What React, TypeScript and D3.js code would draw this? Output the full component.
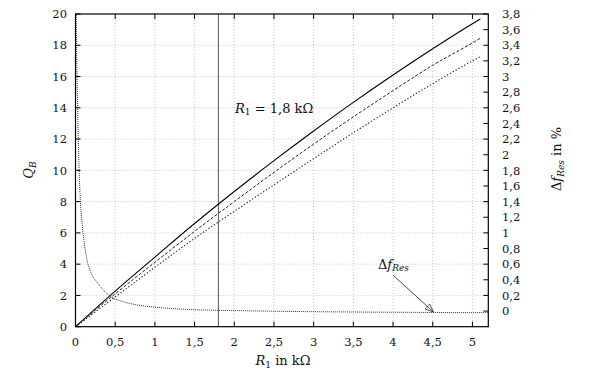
import React from "react";
import * as d3 from "d3";

const xTicks = [0, 0.5, 1, 1.5, 2, 2.5, 3, 3.5, 4, 4.5, 5];
const xTickLabels = ["0", "0,5", "1", "1,5", "2", "2,5", "3", "3,5", "4", "4,5", "5"];
const yLeftTicks = [0, 2, 4, 6, 8, 10, 12, 14, 16, 18, 20];
const yRightTicks = [0, 0.2, 0.4, 0.6, 0.8, 1, 1.2, 1.4, 1.6, 1.8, 2, 2.2, 2.4, 2.6, 2.8, 3, 3.2, 3.4, 3.6, 3.8];
const yRightTickLabels = ["0", "0,2", "0,4", "0,6", "0,8", "1", "1,2", "1,4", "1,6", "1,8", "2", "2,2", "2,4", "2,6", "2,8", "3", "3,2", "3,4", "3,6", "3,8"];

const r1 = [0, 0.5, 1, 1.5, 2, 2.5, 3, 3.5, 4, 4.5, 5, 5.1];
const qSolid = [0, 2.28, 4.45, 6.6, 8.65, 10.62, 12.52, 14.35, 16.1, 17.78, 19.38, 19.68];
const qDashed = [0, 2.1, 4.12, 6.1, 8.0, 9.87, 11.68, 13.42, 15.1, 16.72, 18.15, 18.45];
const qDotted = [0, 1.9, 3.8, 5.65, 7.38, 9.07, 10.75, 12.4, 14.0, 15.55, 17.0, 17.28];

const dfR1 = [0.003, 0.01, 0.02, 0.035, 0.057, 0.086, 0.14, 0.2, 0.27, 0.35, 0.435, 0.6, 0.8, 1.0, 1.25, 1.5, 2.0, 2.5, 3.0, 3.5, 4.0, 4.5, 5.0, 5.2];
const dfRes = [4.3, 3.6, 3.0, 2.2, 1.5, 1.1, 0.68, 0.48, 0.37, 0.27, 0.19, 0.12, 0.075, 0.05, 0.03, 0.017, 0.006, -0.002, -0.008, -0.012, -0.015, -0.018, -0.02, -0.02];

const markerR1 = 1.8;

const W = 590, H = 378;
const L = 75.5, R = 488.3, T = 14, B = 326.7;
const FONT = "DejaVu Serif, serif";
const FS = 11.5;
const LFS = 13;

export default function App() {
  const x = d3.scaleLinear().domain([0, 5.2]).range([L, R]);
  const yL = d3.scaleLinear().domain([0, 20]).range([B, T]);
  const yR = d3.scaleLinear().domain([-0.2, 3.8]).range([B, T]);

  const lineQ = (vals: number[]) =>
    d3.line<number>().x((_, i) => x(r1[i])).y((d) => yL(d)).curve(d3.curveMonotoneX)(vals) || "";
  const lineDf =
    d3.line<number>().x((_, i) => x(dfR1[i])).y((d) => yR(d)).curve(d3.curveMonotoneX)(dfRes) || "";

  const ax0 = x(4.0), ay0 = yR(0.46);
  const ax1 = x(4.51), ay1 = yR(-0.013);
  const ang = Math.atan2(ay1 - ay0, ax1 - ax0);
  const ah = 9, aw = 0.38;
  const p1 = [ax1 - ah * Math.cos(ang - aw), ay1 - ah * Math.sin(ang - aw)];
  const p2 = [ax1 - ah * Math.cos(ang + aw), ay1 - ah * Math.sin(ang + aw)];

  return (
    <svg width={W} height={H} style={{ position: "absolute", left: 0, top: 0, background: "#fff", fontFamily: FONT }}>
      <defs>
        <clipPath id="plot">
          <rect x={L} y={T} width={R - L} height={B - T} />
        </clipPath>
      </defs>
      {/* grid */}
      <g stroke="#aaa" strokeWidth={0.7} strokeDasharray="1,2">
        {xTicks.slice(1).map((t) => (
          <line key={"gx" + t} x1={x(t)} x2={x(t)} y1={T} y2={B} />
        ))}
        {yLeftTicks.slice(1, -1).map((t) => (
          <line key={"gy" + t} x1={L} x2={R} y1={yL(t)} y2={yL(t)} />
        ))}
      </g>
      {/* marker line */}
      <line x1={x(markerR1)} x2={x(markerR1)} y1={T} y2={B} stroke="#555" strokeWidth={1} />
      <g clipPath="url(#plot)" fill="none">
        <path d={lineQ(qSolid)} stroke="#000" strokeWidth={1.1} />
        <path d={lineQ(qDashed)} stroke="#222" strokeWidth={1} strokeDasharray="3,1.8" />
        <path d={lineQ(qDotted)} stroke="#222" strokeWidth={1.1} strokeDasharray="1.3,2" />
        <path d={lineDf} stroke="#333" strokeWidth={1} strokeDasharray="1,1" />
      </g>
      {/* ticks */}
      <g stroke="#000" strokeWidth={1}>
        {xTicks.map((t) => (
          <g key={"tx" + t}>
            <line x1={x(t)} x2={x(t)} y1={B} y2={B - 5} />
            <line x1={x(t)} x2={x(t)} y1={T} y2={T + 5} />
          </g>
        ))}
        {yLeftTicks.map((t) => (
          <line key={"tl" + t} x1={L} x2={L + 5} y1={yL(t)} y2={yL(t)} />
        ))}
        {yRightTicks.map((t) => (
          <line key={"tr" + t} x1={R} x2={R - 5} y1={yR(t)} y2={yR(t)} />
        ))}
      </g>
      <rect x={L} y={T} width={R - L} height={B - T} fill="none" stroke="#000" strokeWidth={1.2} />
      {/* tick labels */}
      <g fontSize={FS} fill="#111">
        {xTicks.map((t, i) => (
          <text key={"lx" + t} x={x(t)} y={346} textAnchor="middle">{xTickLabels[i]}</text>
        ))}
        {yLeftTicks.map((t) => (
          <text key={"ll" + t} x={67} y={yL(t) + 4.2} textAnchor="end">{t}</text>
        ))}
        {yRightTicks.map((t, i) => (
          <text key={"lr" + t} x={502} y={yR(t) + 4.2} textAnchor="start">{yRightTickLabels[i]}</text>
        ))}
      </g>
      {/* axis labels */}
      <text x={283} y={365} fontSize={LFS} textAnchor="middle" fill="#111">
        <tspan fontStyle="italic">R</tspan>
        <tspan fontSize={9} dy={2.5}>1</tspan>
        <tspan dy={-2.5}> in kΩ</tspan>
      </text>
      <text transform="translate(33,170) rotate(-90)" fontSize={LFS} textAnchor="middle" fill="#111">
        <tspan fontStyle="italic">Q</tspan>
        <tspan fontSize={9} fontStyle="italic" dy={2.5}>B</tspan>
      </text>
      <text transform="translate(561,159) rotate(-90)" fontSize={LFS} textAnchor="middle" fill="#111">
        <tspan>Δ</tspan>
        <tspan fontStyle="italic">f</tspan>
        <tspan fontSize={9} fontStyle="italic" dy={2.5}>Res</tspan>
        <tspan dy={-2.5}> in %</tspan>
      </text>
      {/* annotations */}
      <text x={x(2.01)} y={yL(13.67)} fontSize={LFS} fill="#111">
        <tspan fontStyle="italic">R</tspan>
        <tspan fontSize={9} dy={2.5}>1</tspan>
        <tspan dy={-2.5}> = 1,8 kΩ</tspan>
      </text>
      <text x={x(3.81)} y={yR(0.54)} fontSize={LFS} fill="#111">
        <tspan>Δ</tspan>
        <tspan fontStyle="italic">f</tspan>
        <tspan fontSize={9} fontStyle="italic" dy={2.5}>Res</tspan>
      </text>
      <line x1={ax0} y1={ay0} x2={ax1} y2={ay1} stroke="#222" strokeWidth={0.8} />
      <polyline points={`${p1[0]},${p1[1]} ${ax1},${ay1} ${p2[0]},${p2[1]}`} fill="none" stroke="#222" strokeWidth={0.8} />
      <line x1={p1[0]} y1={p1[1]} x2={p2[0]} y2={p2[1]} stroke="#222" strokeWidth={0.6} />
    </svg>
  );
}
